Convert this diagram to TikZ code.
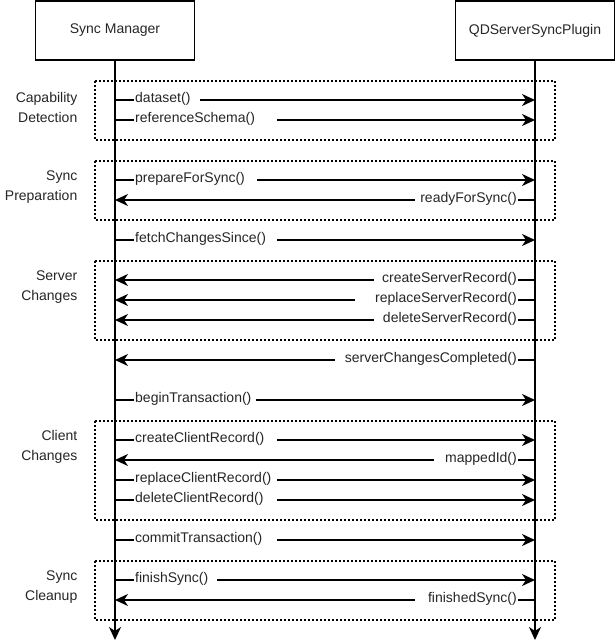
\documentclass[tikz,border=0pt]{standalone}
\usepackage{fontspec}
\setmainfont{Liberation Sans}
\usetikzlibrary{arrows.meta}
\begin{document}
\begin{tikzpicture}[x=1pt,y=-1pt,
  every node/.style={font=\fontsize{14}{20}\selectfont, text=black!85},
  actor/.style={draw=black, line width=1.8pt, minimum width=159pt, minimum height=59pt, inner sep=0pt},
  tipstyle/.style={-{Stealth[length=13pt,width=12pt,inset=4pt]}},
  life/.style={line width=1.8pt, tipstyle},
  msg/.style={line width=1.8pt, tipstyle},
  grp/.style={draw=black, dash pattern=on 2pt off 2pt, line width=1.8pt},
  glab/.style={anchor=east, align=right, inner sep=0pt},
  rlab/.style={anchor=west, fill=white, inner xsep=1pt, inner ysep=1pt, align=left, minimum height=14pt},
  llab/.style={anchor=east, fill=white, inner xsep=1pt, inner ysep=1pt, align=right, minimum height=14pt},
]
\fill[white] (0,0) rectangle (615,641);
\useasboundingbox (0,0) rectangle (615,641);

% group frames
\draw[grp] (95,81) rectangle (555,140);
\draw[grp] (95,161) rectangle (555,220);
\draw[grp] (95,261) rectangle (555,340);
\draw[grp] (95,421) rectangle (555,520);
\draw[grp] (95,561) rectangle (555,620);

% group labels
\node[glab] (gl1) at (77.5,107) {Capability\\Detection};
\node[glab] (gl2) at (77.5,187) {Sync\\Preparation};
\node[glab] (gl3) at (77.5,287) {Server\\Changes};
\node[glab] (gl4) at (77.5,447) {Client\\Changes};
\node[glab] (gl5) at (77.5,587) {Sync\\Cleanup};

% actors
\node[actor] (sm) at (115,30.5) {Sync Manager};
\node[actor] (qd) at (535,30.5) {QDServerSyncPlugin};
\coordinate (smEnd) at (115,640);
\coordinate (qdEnd) at (535,640);
\draw[life] (sm.south) -- (smEnd);
\draw[life] (qd.south) -- (qdEnd);

% messages to the plugin
\foreach \y/\t/\e in {100/dataset()/200, 120/referenceSchema()/277, 180/prepareForSync()/257,
  240/fetchChangesSince()/277, 400/beginTransaction()/256, 440/createClientRecord()/277,
  480/replaceClientRecord()/277, 500/deleteClientRecord()/277, 540/commitTransaction()/277,
  580/finishSync()/217}{
  \coordinate (sa\y) at (115,\y);
  \coordinate (qa\y) at (535,\y);
  \draw[msg] (sa\y) -- (qa\y);
  \pgfmathsetmacro{\w}{\e-136}
  \node[rlab, text width=\w pt] (ma\y) at (134,\y-1) {\t};
}

% messages back to the sync manager
\foreach \y/\t/\s in {200/readyForSync()/415, 280/createServerRecord()/374, 300/replaceServerRecord()/355,
  320/deleteServerRecord()/374, 360/serverChangesCompleted()/335, 460/mappedId()/434,
  600/finishedSync()/415}{
  \coordinate (qb\y) at (535,\y);
  \coordinate (sb\y) at (115,\y);
  \draw[msg] (qb\y) -- (sb\y);
  \pgfmathsetmacro{\w}{516-\s}
  \node[llab, text width=\w pt] (mb\y) at (518,\y-1) {\t};
}
\end{tikzpicture}
\end{document}
